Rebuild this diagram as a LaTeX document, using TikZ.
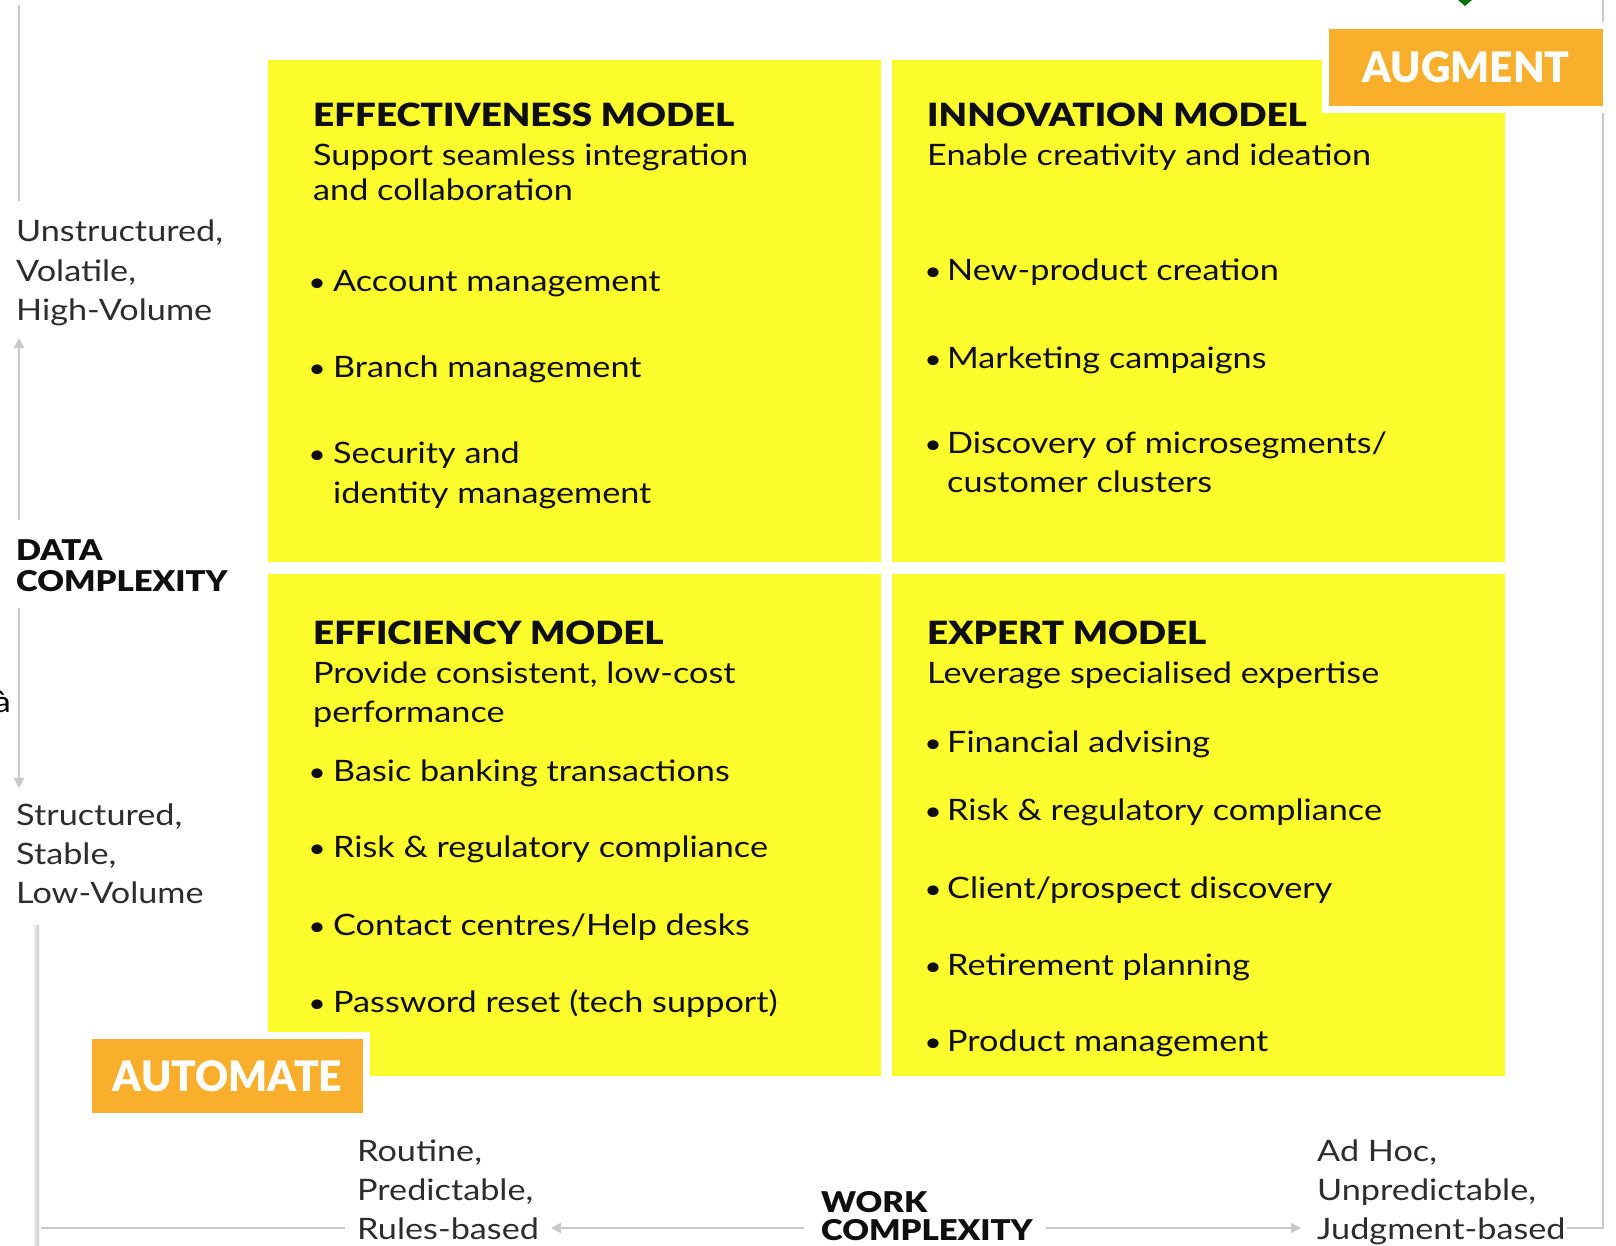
\documentclass[tikz,border=0pt]{standalone}
\usepackage{fontspec}
\setmainfont{Lato}[FakeStretch=1.16]
\newfontfamily\heavyfont{Lato Black}[FakeStretch=1.15]
\newfontfamily\badgefont{Lato Black}[FakeStretch=0.97]
\usetikzlibrary{arrows.meta}
\definecolor{quadyellow}{RGB}{252,252,45}
\definecolor{badgeorange}{RGB}{249,175,43}
\definecolor{axisgray}{RGB}{200,200,200}
\definecolor{ink}{RGB}{15,15,15}
\definecolor{labelgray}{RGB}{45,45,45}

\begin{document}
\begin{tikzpicture}[x=1pt, y=-1pt, >={Triangle[length=10pt, width=10pt]}]
    \tikzstyle{quad}=[fill=quadyellow, anchor=north west, inner sep=0pt, minimum width=613pt, minimum height=502pt]
    \tikzstyle{badge}=[fill=badgeorange, text=white, inner sep=0pt, font=\badgefont\fontsize{42}{42}\selectfont, preaction={draw=white, line width=14pt}]
    \tikzstyle{title}=[anchor=base west, inner sep=0pt, text=ink, font=\heavyfont\fontsize{32}{32}\selectfont]
    \tikzstyle{body}=[anchor=base west, inner sep=0pt, text=ink, font=\fontsize{29.5}{29.5}\selectfont]
    \tikzstyle{dot}=[body, anchor=base, font=\fontsize{26}{26}\selectfont]
    \tikzstyle{axislabel}=[body, text=labelgray]
    \tikzstyle{axistitle}=[title, font=\heavyfont\fontsize{28.6}{28.6}\selectfont]
    \tikzstyle{axis}=[draw=axisgray, line width=2pt]
    \useasboundingbox (0,0) rectangle (1616,1245);

    % draw quadrants
    \node [quad] (eff) at (268,60) {};
    \node [quad] (inn) at (892,60) {};
    \node [quad] (effc) at (268,574) {};
    \node [quad] (exp) at (892,574) {};

    % draw frame and axes
    \shade [left color=white, right color=black!22] (32,925) rectangle (39,1245);
    \fill [green!45!black] (1458,0) -- (1472,0) -- (1465,6) -- cycle;

    \coordinate (ytop) at (19,5);
    \coordinate (yend) at (19,201);
    \coordinate (yup-tip) at (19,338);
    \coordinate (yup-tail) at (19,520);
    \coordinate (ydn-tail) at (19,608);
    \coordinate (ydn-tip) at (19,788);
    \coordinate (xstart) at (41,1228);
    \coordinate (xend) at (345,1228);
    \coordinate (xl-tip) at (551,1228);
    \coordinate (xl-tail) at (804,1228);
    \coordinate (xr-tail) at (1046,1228);
    \coordinate (xr-tip) at (1301,1228);
    \coordinate (xr-end) at (1567,1228);
    \coordinate (corner) at (1603,1228);
    \coordinate (rtop) at (1603,0);

    \draw [axis] (ytop) -- (yend);
    \draw [axis, ->] (yup-tail) -- (yup-tip);
    \draw [axis, ->] (ydn-tail) -- (ydn-tip);
    \draw [axis] (xstart) -- (xend);
    \draw [axis, ->] (xl-tail) -- (xl-tip);
    \draw [axis, ->] (xr-tail) -- (xr-tip);
    \draw [axis] (xr-end) -- (corner) -- (rtop);

    % draw badges
    \node [badge, minimum width=274pt, minimum height=77pt] (augment) at (1466,67.5) {AUGMENT};
    \node [badge, minimum width=271pt, minimum height=74pt] (automate) at (227.5,1076) {AUTOMATE};

    % draw axis text
    \foreach \t/\y [count=\i] in {{Unstructured,}/241, {Volatile,}/281, High-Volume/320}
    \node [axislabel] (high-\i) at (16,\y) {\t};
    \foreach \t/\y [count=\i] in {{Structured,}/825, {Stable,}/864, Low-Volume/903}
    \node [axislabel] (low-\i) at (16,\y) {\t};
    \node [axistitle] (data-1) at (16,560) {DATA};
    \node [axistitle] (data-2) at (16,591) {COMPLEXITY};
    \node [body, anchor=base east, text=black] (cut) at (11,712) {à};

    \foreach \t/\y [count=\i] in {{Routine,}/1161, {Predictable,}/1200, Rules-based/1239}
    \node [axislabel] (routine-\i) at (357,\y) {\t};
    \foreach \t/\y [count=\i] in {{Ad Hoc,}/1161, {Unpredictable,}/1200, Judgment-based/1239}
    \node [axislabel] (adhoc-\i) at (1317,\y) {\t};
    \node [axistitle] (work-1) at (821,1212) {WORK};
    \node [axistitle] (work-2) at (821,1240) {COMPLEXITY};

    % draw quadrant text
    \node [title] (eff-title) at (313,126) {EFFECTIVENESS MODEL};
    \node [body] (eff-sub-1) at (313,165) {Support seamless integration};
    \node [body] (eff-sub-2) at (313,200) {and collaboration};
    \foreach \b/\t/\y [count=\i] in {•/Account management/291, •/Branch management/377, •/Security and/463, {}/identity management/503}
    {
      \node [dot] (eff-dot-\i) at (317,\y) {\b};
      \node [body] (eff-item-\i) at (333,\y) {\t};
    }

    \node [title] (inn-title) at (927,126) {INNOVATION MODEL};
    \node [body] (inn-sub-1) at (927,165) {Enable creativity and ideation};
    \foreach \b/\t/\y [count=\i] in {•/New-product creation/280, •/Marketing campaigns/368, •/{Discovery of microsegments/}/453, {}/customer clusters/492}
    {
      \node [dot] (inn-dot-\i) at (933,\y) {\b};
      \node [body] (inn-item-\i) at (947,\y) {\t};
    }

    \node [title] (effc-title) at (313,644) {EFFICIENCY MODEL};
    \node [body] (effc-sub-1) at (313,683) {Provide consistent, low-cost};
    \node [body] (effc-sub-2) at (313,722) {performance};
    \foreach \b/\t/\y [count=\i] in {•/Basic banking transactions/781, •/Risk \& regulatory compliance/857, •/{Contact centres/Help desks}/935, •/Password reset (tech support)/1012}
    {
      \node [dot] (effc-dot-\i) at (317,\y) {\b};
      \node [body] (effc-item-\i) at (333,\y) {\t};
    }

    \node [title] (exp-title) at (927,644) {EXPERT MODEL};
    \node [body] (exp-sub-1) at (927,683) {Leverage specialised expertise};
    \foreach \b/\t/\y [count=\i] in {•/Financial advising/752, •/Risk \& regulatory compliance/820, •/{Client/prospect discovery}/898, •/Retirement planning/975, •/Product management/1051}
    {
      \node [dot] (exp-dot-\i) at (933,\y) {\b};
      \node [body] (exp-item-\i) at (947,\y) {\t};
    }
\end{tikzpicture}
\end{document}
